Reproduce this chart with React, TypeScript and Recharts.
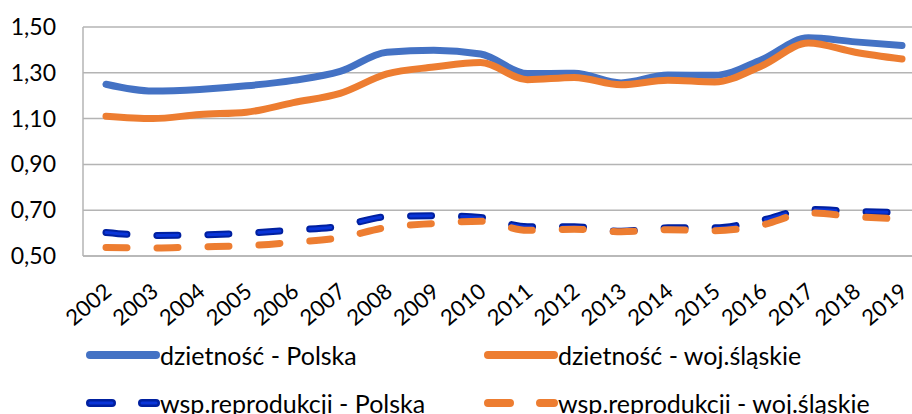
import { LineChart, Line, XAxis, YAxis, CartesianGrid } from 'recharts';

// lata
const years = [
  '2002', '2003', '2004', '2005', '2006', '2007', '2008', '2009', '2010',
  '2011', '2012', '2013', '2014', '2015', '2016', '2017', '2018', '2019',
];

// współczynnik dzietności
const dzietnoscPolska = [1.25, 1.22, 1.227, 1.243, 1.267, 1.306, 1.39, 1.398, 1.382, 1.297, 1.298, 1.256, 1.29, 1.289, 1.357, 1.453, 1.435, 1.419];
const dzietnoscSlaskie = [1.11, 1.1, 1.118, 1.128, 1.17, 1.21, 1.295, 1.325, 1.345, 1.27, 1.28, 1.248, 1.268, 1.26, 1.33, 1.43, 1.39, 1.36];

// współczynnik reprodukcji netto
const reprodPolska = [0.603, 0.59, 0.592, 0.6, 0.613, 0.63, 0.672, 0.676, 0.668, 0.628, 0.628, 0.608, 0.623, 0.623, 0.656, 0.703, 0.695, 0.689];
const reprodSlaskie = [0.537, 0.535, 0.54, 0.545, 0.56, 0.58, 0.625, 0.642, 0.652, 0.612, 0.617, 0.606, 0.615, 0.61, 0.635, 0.688, 0.672, 0.662];

const yTicks = [0.5, 0.7, 0.9, 1.1, 1.3, 1.5];

const data = years.map((year, i) => ({
  year,
  dzPL: dzietnoscPolska[i],
  dzSL: dzietnoscSlaskie[i],
  repPL: reprodPolska[i],
  repSL: reprodSlaskie[i],
}));

const FONT = 'Lato, "Liberation Sans", sans-serif';
const BLUE = '#4472C4';
const ORANGE = '#ED7D31';
const NAVY = '#0020a0';
const BRIGHT = '#0a35d8';
const DASH = '21 30';

const fmt = (v: number) => v.toFixed(2).replace('.', ',');

const YTick = ({ x, y, payload }: any) => (
  <text x={x - 19} y={y} dy="0.35em" textAnchor="end" fontSize={23} fontFamily={FONT} fill="#000">
    {fmt(payload.value)}
  </text>
);

const XTick = ({ x, y, payload }: any) => (
  <g transform={`translate(${x + 2},${y + 24})`}>
    <text x={0} y={0} dy="0.35em" transform="rotate(-40)" textAnchor="end" fontSize={22} fontFamily={FONT} fill="#000">
      {payload.value}
    </text>
  </g>
);

const legendItems = [
  { label: 'dzietność - Polska', color: BLUE, dashed: false, left: 82, top: 355 },
  { label: 'dzietność - woj.śląskie', color: ORANGE, dashed: false, left: 480, top: 355 },
  { label: 'wsp.reprodukcji - Polska', color: BRIGHT, dashed: true, left: 82, top: 403 },
  { label: 'wsp.reprodukcji - woj.śląskie', color: ORANGE, dashed: true, left: 480, top: 403 },
];

function LegendKey({ color, dashed }: { color: string; dashed: boolean }) {
  const compound = dashed && color === BRIGHT;
  return (
    <svg width={78} height={10} style={{ display: 'block' }}>
      {compound && (
        <line x1={8} y1={5} x2={74} y2={5} stroke={NAVY} strokeWidth={8} strokeLinecap="round" strokeDasharray="22 30" />
      )}
      <line
        x1={8}
        y1={5}
        x2={74}
        y2={5}
        stroke={color}
        strokeWidth={compound ? 3 : 8}
        strokeLinecap="round"
        strokeDasharray={dashed ? '22 30' : undefined}
      />
    </svg>
  );
}

export default function App() {
  return (
    <div style={{ position: 'absolute', left: 0, top: 0, width: 912, height: 414, overflow: 'hidden', background: '#fff' }}>
      <LineChart width={930} height={414} data={data} margin={{ top: 27, right: 5, bottom: 88, left: 0 }}>
        <CartesianGrid vertical={false} stroke="#b4b4b4" strokeWidth={1.5} />
        <XAxis
          dataKey="year"
          height={70}
          padding={{ left: 23, right: 23 }}
          tickLine={false}
          axisLine={{ stroke: '#b4b4b4', strokeWidth: 1.5 }}
          interval={0}
          tick={<XTick />}
        />
        <YAxis
          width={83}
          domain={[0.5, 1.5]}
          ticks={yTicks}
          tickLine={false}
          axisLine={{ stroke: '#b4b4b4', strokeWidth: 1.5 }}
          tick={<YTick />}
        />
        <Line type="monotone" dataKey="dzPL" stroke={BLUE} strokeWidth={7} strokeLinecap="round" dot={false} isAnimationActive={false} />
        <Line type="monotone" dataKey="dzSL" stroke={ORANGE} strokeWidth={7} strokeLinecap="round" dot={false} isAnimationActive={false} />
        <Line type="monotone" dataKey="repPL" stroke={NAVY} strokeWidth={7} strokeLinecap="round" strokeDasharray={DASH} dot={false} isAnimationActive={false} />
        <Line type="monotone" dataKey="repPL" stroke={BRIGHT} strokeWidth={3} strokeLinecap="round" strokeDasharray={DASH} dot={false} isAnimationActive={false} />
        <Line type="monotone" dataKey="repSL" stroke={ORANGE} strokeWidth={7} strokeLinecap="round" strokeDasharray={DASH} dot={false} isAnimationActive={false} />
      </LineChart>
      {legendItems.map((item) => (
        <div
          key={item.label}
          style={{
            position: 'absolute',
            left: item.left,
            top: item.top - 16,
            height: 32,
            display: 'flex',
            alignItems: 'center',
            fontFamily: FONT,
            fontSize: 25,
            color: '#000',
            whiteSpace: 'nowrap',
          }}
        >
          <LegendKey color={item.color} dashed={item.dashed} />
          <span>{item.label}</span>
        </div>
      ))}
    </div>
  );
}
